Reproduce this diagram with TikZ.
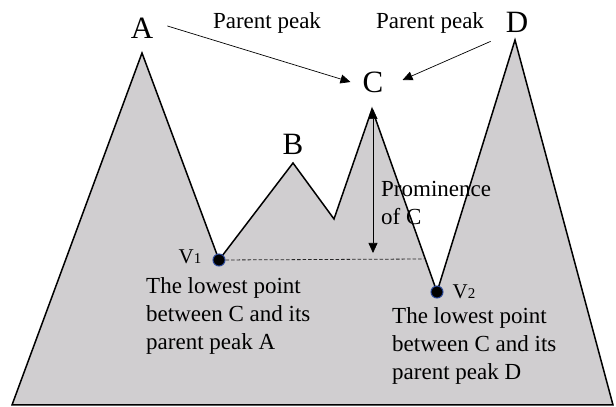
\documentclass[tikz,border=0pt]{standalone}
\usepackage{fontspec}
\setmainfont{Liberation Serif}
\usetikzlibrary{arrows.meta, positioning}
\definecolor{rockgray}{RGB}{208,206,208}
\definecolor{dotblue}{RGB}{40,70,150}

\begin{document}
\begin{tikzpicture}[x=1pt, y=1pt,
    peak/.style={inner sep=0pt, font=\fontsize{31}{31}\selectfont},
    note/.style={inner sep=0pt, align=left, font=\fontsize{23}{28}\selectfont},
    arr/.style={-{Triangle[length=10pt,width=9pt]}, line width=0.7pt},
    saddle/.style={circle, fill=black, draw=dotblue, line width=1pt, minimum size=12pt, inner sep=0pt},
    vlabel/.style={inner sep=0pt, font=\fontsize{21}{21}\selectfont}]
  \useasboundingbox (0,0) rectangle (616,407);
  % Mountain range
  \coordinate (bl) at (12,2);
  \coordinate (pA) at (142,354);
  \coordinate (v1) at (219,147);
  \coordinate (pB) at (293,244);
  \coordinate (notch) at (334,188);
  \coordinate (pC) at (372,298);
  \coordinate (v2) at (437,115);
  \coordinate (pD) at (515,367);
  \coordinate (br) at (613,2);
  \filldraw[fill=rockgray, line width=1.5pt] (bl) -- (pA) -- (v1) -- (pB) -- (notch)
    -- (pC) -- (v2) -- (pD) -- (br) -- cycle;
  % Peak letters
  \node[peak] (A) at (142,379) {A};
  \node[peak] (B) at (293,263) {B};
  \node[peak] (C) at (373,325) {C};
  \node[peak] (D) at (517,385) {D};
  % Parent peak arrows
  \node[note] (par1) at (267,384) {Parent peak};
  \node[note] (par2) at (430,384) {Parent peak};
  \draw[arr] ([xshift=14pt,yshift=2pt]A.east) -- ([xshift=-12pt]C.west);
  \draw[arr] ([xshift=-15pt,yshift=-9pt]D.south west) -- ([xshift=19pt,yshift=2pt]C.east);
  % Saddles and prominence
  \node[saddle] (s1) at (v1) {};
  \node[saddle] (s2) at (v2) {};
  \coordinate (lvl) at (424,148);
  \coordinate (promend) at (373,154);
  \draw[dash pattern=on 3.5pt off 2pt, line width=0.8pt, black!85] (s1) -- (lvl);
  \draw[{Triangle[length=10pt,width=9pt]}-{Triangle[length=10pt,width=9pt]}, line width=0.7pt]
    (373,298) -- (promend);
  \node[note, anchor=north west] (prom) at (381,226) {Prominence\\of C};
  % Saddle labels
  \node[vlabel, left=11pt of s1, yshift=3pt] (lv1) {V\fontsize{15}{15}\selectfont 1};
  \node[vlabel, right=9pt of s2] (lv2) {V\fontsize{15}{15}\selectfont 2};
  \node[note, anchor=north west] (txt1) at (146,130)
    {The lowest point\\between C and its\\parent peak A};
  \node[note, anchor=north west] (txt2) at (392,100)
    {The lowest point\\between C and its\\parent peak D};
\end{tikzpicture}
\end{document}
